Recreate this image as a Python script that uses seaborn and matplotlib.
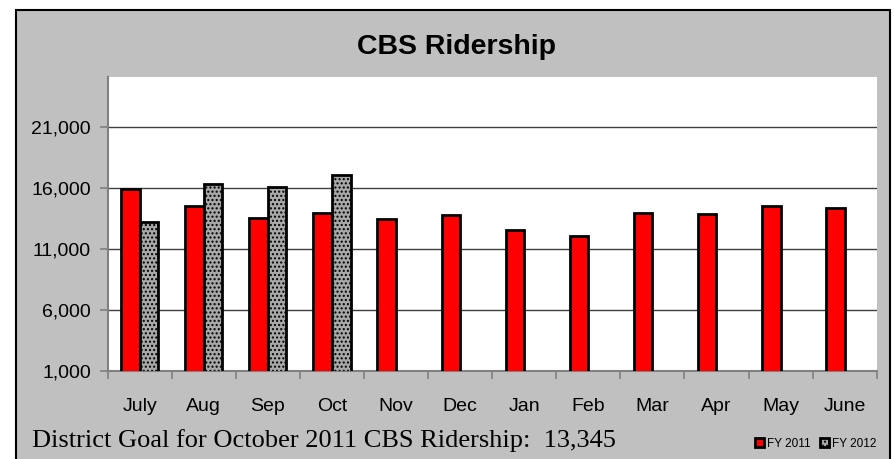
# CBS Ridership bar chart

import pandas as pd
import numpy as np
import matplotlib
matplotlib.use("Agg")
import matplotlib.pyplot as plt
import seaborn as sns
from matplotlib.patches import Rectangle

# =========================================================
# DATA
# =========================================================

months = ["July", "Aug", "Sep", "Oct", "Nov", "Dec",
          "Jan", "Feb", "Mar", "Apr", "May", "June"]

fy2011 = [15950, 14550, 13500, 13900, 13440, 13740,
          12560, 12090, 13900, 13820, 14480, 14390]

fy2012 = [13200, 16300, 16050, 17080, np.nan, np.nan,
          np.nan, np.nan, np.nan, np.nan, np.nan, np.nan]

series_names = ["FY 2011", "FY 2012"]

y_ticks = [1000, 6000, 11000, 16000, 21000]

goal_text = "District Goal for October 2011 CBS Ridership:  13,345"

# =========================================================
# STYLE
# =========================================================

sns.set_style("white")
plt.rcParams["font.family"] = ["Liberation Sans Narrow", "Liberation Sans", "DejaVu Sans"]
plt.rcParams["text.color"] = "black"
plt.rcParams["xtick.color"] = "black"
plt.rcParams["ytick.color"] = "black"

df = pd.DataFrame({
    "month": months * 2,
    "riders": fy2011 + fy2012,
    "fy": [series_names[0]] * 12 + [series_names[1]] * 12,
})

fig = plt.figure(figsize=(8.94, 4.59), dpi=100)
fig.patch.set_facecolor("white")

# grey outer panel with black frame
fig.patches.append(Rectangle(
    (16 / 894, -0.01), (890 - 16) / 894, 1 - 10 / 459 + 0.01,
    transform=fig.transFigure, facecolor="#c0c0c0",
    edgecolor="black", linewidth=1.5, zorder=-5))

ax = fig.add_axes([107.7 / 894, 1 - 370.7 / 459, 769 / 894, 293.7 / 459])
ax.set_facecolor("white")

sns.barplot(
    data=df, x="month", y="riders", hue="fy",
    palette=["#ff0000", "#a8a8a8"], saturation=1, width=0.58,
    edgecolor="black", linewidth=2, ax=ax, legend=False,
    zorder=3,
)

for bar in ax.containers[1]:
    bar.set_hatch("....")

# =========================================================
# AXES
# =========================================================

ax.set_ylim(1000, 25100)
ax.set_xlim(-0.5, 11.5)
ax.set_yticks(y_ticks)
ax.set_yticklabels([f"{v:,}" for v in y_ticks], fontsize=14)
ax.yaxis.grid(True, color="#404040", linewidth=1.0, zorder=1)
ax.set_axisbelow(True)

ax.set_xticks(range(12))
ax.set_xticklabels(months, fontsize=14)
ax.tick_params(axis="x", length=0, pad=20)
ax.set_xticks(np.arange(-0.5, 12.0, 1.0), minor=True)
ax.tick_params(axis="x", which="minor", length=6, color="#808080", width=1.2, direction="out")
ax.tick_params(axis="y", length=6, color="#808080", labelcolor="black", width=1.2, direction="out", pad=6)
ax.tick_params(axis="x", labelcolor="black")
ax.xaxis.set_tick_params(bottom=True, which="both")
ax.yaxis.set_tick_params(left=True)

ax.set_xlabel("")
ax.set_ylabel("")

for side in ["top", "right"]:
    ax.spines[side].set_visible(False)
for side in ["left", "bottom"]:
    ax.spines[side].set_color("#808080")
    ax.spines[side].set_linewidth(1.5)

# =========================================================
# TEXT
# =========================================================

fig.text(456 / 894, 1 - 47 / 459, "CBS Ridership", ha="center", va="center",
         fontsize=20.5, fontweight="bold", color="black")

fig.text(32 / 894, 1 - 447 / 459, goal_text, ha="left", va="baseline",
         fontsize=19, color="black", family=["Liberation Serif", "DejaVu Serif"])

handles = [ax.containers[0][0], ax.containers[1][0]]
fig.legend(handles, series_names, loc="center right",
           bbox_to_anchor=(882 / 894, 1 - 444 / 459),
           ncol=2, frameon=False, fontsize=8.5,
           handlelength=0.8, handleheight=0.8, handletextpad=0.2,
           columnspacing=0.8, borderpad=0)

fig.savefig("out.png", dpi=100, facecolor=fig.get_facecolor())
